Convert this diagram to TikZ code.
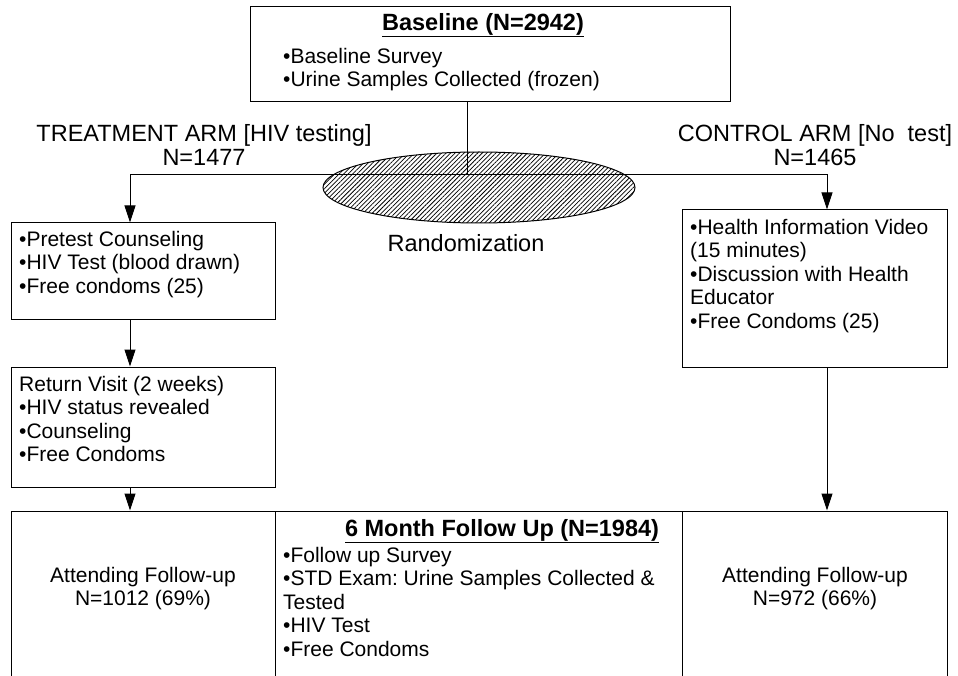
\documentclass[tikz,border=0pt]{standalone}
\usepackage{fontspec}
\setmainfont{Liberation Sans}
\frenchspacing
\usetikzlibrary{arrows.meta,patterns.meta,shapes.geometric}
\begin{document}
\begin{tikzpicture}[x=1pt,y=-1pt,
  box/.style={draw,line width=1pt,inner sep=0pt,rectangle},
  body/.style={inner sep=0pt,align=left,font=\fontsize{21}{23.5}\selectfont},
  cbody/.style={inner sep=0pt,align=center,font=\fontsize{21}{23}\selectfont},
  head/.style={inner sep=0pt,font=\fontsize{23.5}{26}\selectfont\bfseries},
  armlbl/.style={inner sep=0pt,align=center,font=\fontsize{23.5}{24}\selectfont},
  conn/.style={line width=1pt},
  arr/.style={line width=1pt,-{Triangle[length=17pt,width=11pt]}}]
\useasboundingbox (0,0) rectangle (958,676);
\clip (0,0) rectangle (958,676);
% boxes
\node[box,minimum width=480pt,minimum height=95pt] (base) at (490,54.5) {};
\node[box,minimum width=264pt,minimum height=96pt] (t1) at (143,271) {};
\node[box,minimum width=264pt,minimum height=120pt] (t2) at (143,427) {};
\node[box,minimum width=265pt,minimum height=157pt] (c1) at (814.5,288.5) {};
\node[box,minimum width=264pt,minimum height=209pt] (f1) at (143,615.5) {};
\node[box,minimum width=407pt,minimum height=209pt] (f2) at (478.5,615.5) {};
\node[box,minimum width=265pt,minimum height=209pt] (f3) at (814.5,615.5) {};
% randomization ellipse
\node[draw,line width=1pt,ellipse,minimum width=312pt,minimum height=71pt,inner sep=0pt,
  pattern={Lines[angle=45,distance=3.2pt,line width=0.75pt]}] (rand) at (479,187.5) {};
\node[inner sep=0pt,font=\fontsize{23.5}{26}\selectfont] (randlbl) at (466,243) {Randomization};
% texts
\node[head] (basehead) at (483,25) {\underline{Baseline (N=2942)}};
\node[body,anchor=north west] (basetxt) at (283,48) {•Baseline Survey\\•Urine Samples Collected (frozen)};
\node[armlbl] (tarm) at (204,145) {TREATMENT ARM [HIV testing]\\N=1477};
\node[armlbl] (carm) at (815,145) {CONTROL ARM [No\ \ test]\\N=1465};
\node[body,anchor=north west] (t1txt) at (19,231) {•Pretest Counseling\\•HIV Test (blood drawn)\\•Free condoms (25)};
\node[body,anchor=north west] (t2txt) at (19,376) {Return Visit (2 weeks)\\•HIV status revealed\\•Counseling\\•Free Condoms};
\node[body,anchor=north west] (c1txt) at (690,219) {•Health Information Video\\(15 minutes)\\•Discussion with Health\\Educator\\•Free Condoms (25)};
\node[head] (fuhead) at (502,531) {\underline{6 Month Follow Up (N=1984)}};
\node[body,anchor=north west] (futxt) at (283,547) {•Follow up Survey\\•STD Exam: Urine Samples Collected \&\\Tested\\•HIV Test\\•Free Condoms};
\node[cbody] (f1txt) at (143,589) {Attending Follow-up\\N=1012 (69\%)};
\node[cbody] (f3txt) at (815,589) {Attending Follow-up\\N=972 (66\%)};
% connectors
\coordinate (split) at (467,175);
\coordinate (lt) at (130,175);
\coordinate (rt) at (827,175);
\draw[conn] (base.south -| split) -- (split);
\draw[arr] (split) -- (lt) -- (lt |- t1.north);
\draw[arr] (split) -- (rt) -- (rt |- c1.north);
\draw[arr] (lt |- t1.south) -- (lt |- t2.north);
\draw[arr] (lt |- t2.south) -- (lt |- f1.north);
\draw[arr] (rt |- c1.south) -- (rt |- f3.north);
\end{tikzpicture}
\end{document}
